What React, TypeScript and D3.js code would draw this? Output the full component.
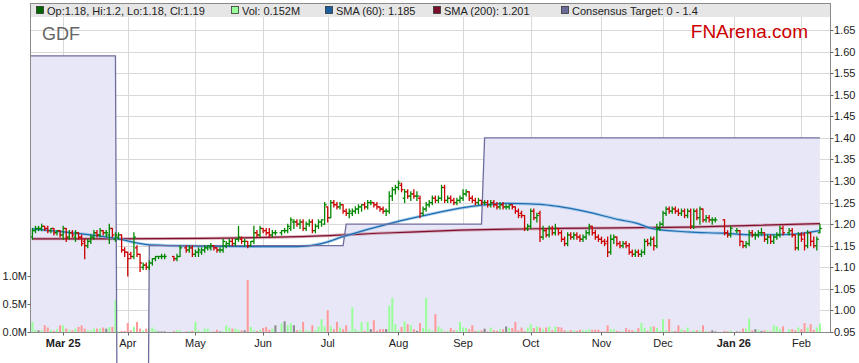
import * as d3 from 'd3'

const FIRST_DAY = '2025-02-17'
const LAST_DAY = '2026-02-10'

// [open, high, low, close] for every weekday, null = market closed
type Bar = [number, number, number, number] | null
const ohlc: Bar[] = [
  // Feb 25
  [1.170, 1.190, 1.165, 1.185], [1.185, 1.195, 1.180, 1.190], [1.190, 1.195, 1.185, 1.190], [1.190, 1.200, 1.185, 1.195],
  [1.195, 1.195, 1.185, 1.190], [1.190, 1.195, 1.180, 1.185], [1.185, 1.190, 1.180, 1.190], [1.190, 1.190, 1.175, 1.180],
  [1.180, 1.185, 1.175, 1.185], [1.185, 1.185, 1.170, 1.175],
  // Mar 25
  [1.175, 1.195, 1.165, 1.190], [1.190, 1.190, 1.160, 1.170], [1.170, 1.185, 1.165, 1.180], [1.180, 1.185, 1.170, 1.175],
  [1.170, 1.185, 1.160, 1.180], [1.180, 1.180, 1.165, 1.170], [1.170, 1.175, 1.150, 1.155], [1.160, 1.165, 1.120, 1.150],
  [1.150, 1.165, 1.145, 1.160], [1.160, 1.175, 1.155, 1.170], [1.170, 1.185, 1.165, 1.180], [1.180, 1.185, 1.170, 1.175],
  [1.175, 1.190, 1.170, 1.185], [1.185, 1.185, 1.175, 1.180], [1.180, 1.185, 1.170, 1.180], [1.175, 1.200, 1.155, 1.190],
  [1.190, 1.190, 1.170, 1.175], [1.165, 1.180, 1.160, 1.175], [1.170, 1.180, 1.165, 1.175], [1.175, 1.175, 1.135, 1.140],
  [1.140, 1.145, 1.125, 1.135],
  // Apr
  [1.135, 1.135, 1.080, 1.120], [1.130, 1.135, 1.120, 1.125], [1.125, 1.180, 1.120, 1.170], [1.145, 1.150, 1.125, 1.130],
  [1.130, 1.130, 1.090, 1.110], [1.100, 1.110, 1.095, 1.105], [1.105, 1.110, 1.095, 1.100], [1.100, 1.115, 1.095, 1.110],
  [1.110, 1.120, 1.105, 1.120], [1.120, 1.125, 1.115, 1.125], [1.125, 1.125, 1.120, 1.125], [1.125, 1.130, 1.120, 1.125],
  [1.125, 1.130, 1.120, 1.125], null, null, [1.125, 1.125, 1.115, 1.120],
  [1.120, 1.130, 1.115, 1.125], [1.125, 1.150, 1.125, 1.145], null, [1.145, 1.150, 1.135, 1.140],
  [1.140, 1.150, 1.135, 1.145], [1.145, 1.150, 1.125, 1.130],
  // May
  [1.130, 1.140, 1.125, 1.135], [1.135, 1.145, 1.125, 1.140], [1.135, 1.145, 1.130, 1.140], [1.140, 1.150, 1.135, 1.145],
  [1.145, 1.150, 1.140, 1.150], [1.145, 1.155, 1.140, 1.150], [1.150, 1.150, 1.140, 1.145], [1.145, 1.145, 1.135, 1.140],
  [1.140, 1.145, 1.135, 1.140], [1.140, 1.165, 1.135, 1.160], [1.150, 1.160, 1.145, 1.155], [1.155, 1.165, 1.150, 1.160],
  [1.160, 1.165, 1.150, 1.155], [1.155, 1.165, 1.150, 1.165], [1.165, 1.195, 1.160, 1.170], [1.165, 1.170, 1.155, 1.160],
  [1.160, 1.165, 1.150, 1.160], [1.160, 1.160, 1.145, 1.150], [1.150, 1.160, 1.150, 1.160], [1.160, 1.195, 1.155, 1.180],
  [1.180, 1.185, 1.170, 1.175], [1.175, 1.195, 1.170, 1.190],
  // Jun
  [1.190, 1.190, 1.180, 1.185], [1.185, 1.190, 1.175, 1.180], [1.180, 1.190, 1.170, 1.175], [1.175, 1.185, 1.170, 1.180],
  [1.180, 1.185, 1.175, 1.180], null, [1.180, 1.185, 1.175, 1.185], [1.185, 1.190, 1.180, 1.185],
  [1.185, 1.200, 1.180, 1.195], [1.190, 1.215, 1.185, 1.210], [1.205, 1.210, 1.190, 1.205], [1.205, 1.210, 1.195, 1.200],
  [1.200, 1.210, 1.190, 1.205], [1.205, 1.210, 1.185, 1.190], [1.190, 1.205, 1.185, 1.200], [1.200, 1.210, 1.195, 1.205],
  [1.205, 1.210, 1.180, 1.185], [1.185, 1.200, 1.180, 1.195], [1.195, 1.210, 1.190, 1.205], [1.205, 1.210, 1.195, 1.210],
  [1.200, 1.250, 1.200, 1.245],
  // Jul
  [1.240, 1.240, 1.205, 1.215], [1.215, 1.255, 1.215, 1.250], [1.250, 1.255, 1.240, 1.245], [1.245, 1.250, 1.235, 1.240],
  [1.240, 1.250, 1.235, 1.245], [1.245, 1.245, 1.225, 1.230], [1.230, 1.235, 1.220, 1.225], [1.225, 1.235, 1.215, 1.230],
  [1.225, 1.235, 1.220, 1.230], [1.230, 1.240, 1.225, 1.235], [1.235, 1.245, 1.225, 1.240], [1.240, 1.245, 1.230, 1.245],
  [1.245, 1.250, 1.235, 1.240], [1.240, 1.255, 1.235, 1.250], [1.250, 1.255, 1.245, 1.250], [1.250, 1.250, 1.240, 1.245],
  [1.245, 1.250, 1.235, 1.240], [1.240, 1.240, 1.230, 1.235], [1.235, 1.240, 1.225, 1.230], [1.230, 1.235, 1.220, 1.230],
  [1.230, 1.275, 1.225, 1.265], [1.265, 1.285, 1.255, 1.280], [1.280, 1.290, 1.270, 1.285],
  // Aug
  [1.285, 1.300, 1.280, 1.295], [1.290, 1.295, 1.275, 1.280], [1.260, 1.280, 1.250, 1.275], [1.275, 1.280, 1.260, 1.265],
  [1.265, 1.275, 1.255, 1.270], [1.270, 1.280, 1.260, 1.265], [1.265, 1.275, 1.255, 1.265], [1.260, 1.265, 1.215, 1.225],
  [1.225, 1.240, 1.220, 1.235], [1.235, 1.250, 1.230, 1.245], [1.245, 1.255, 1.240, 1.250], [1.250, 1.265, 1.245, 1.260],
  [1.260, 1.265, 1.250, 1.255], [1.255, 1.265, 1.250, 1.260], [1.260, 1.290, 1.255, 1.285], [1.285, 1.290, 1.250, 1.255],
  [1.255, 1.265, 1.250, 1.260], [1.260, 1.265, 1.250, 1.255], [1.255, 1.260, 1.245, 1.250], [1.250, 1.260, 1.245, 1.255],
  [1.255, 1.265, 1.250, 1.260],
  // Sep
  [1.260, 1.280, 1.255, 1.270], [1.270, 1.280, 1.265, 1.275], [1.275, 1.275, 1.255, 1.260], [1.260, 1.265, 1.250, 1.255],
  [1.255, 1.260, 1.245, 1.250], [1.250, 1.260, 1.245, 1.255], [1.255, 1.255, 1.245, 1.250], [1.250, 1.255, 1.245, 1.250],
  [1.250, 1.255, 1.240, 1.245], [1.245, 1.255, 1.240, 1.250], [1.250, 1.255, 1.240, 1.245], [1.245, 1.250, 1.235, 1.240],
  [1.240, 1.250, 1.235, 1.245], [1.245, 1.250, 1.235, 1.240], [1.240, 1.245, 1.235, 1.240], [1.240, 1.245, 1.235, 1.245],
  [1.245, 1.245, 1.235, 1.240], [1.240, 1.240, 1.225, 1.230], [1.230, 1.235, 1.215, 1.220], [1.225, 1.230, 1.215, 1.220],
  [1.220, 1.220, 1.185, 1.190], [1.190, 1.200, 1.185, 1.195],
  // Oct
  [1.195, 1.235, 1.190, 1.230], [1.230, 1.235, 1.210, 1.215], [1.215, 1.225, 1.205, 1.220], [1.225, 1.230, 1.160, 1.170],
  [1.170, 1.195, 1.165, 1.185], [1.185, 1.190, 1.170, 1.175], [1.175, 1.195, 1.170, 1.190], [1.190, 1.195, 1.175, 1.180],
  [1.180, 1.200, 1.175, 1.190], [1.190, 1.190, 1.175, 1.180], [1.180, 1.185, 1.160, 1.165], [1.165, 1.170, 1.150, 1.155],
  [1.155, 1.180, 1.150, 1.175], [1.175, 1.180, 1.165, 1.170], [1.170, 1.180, 1.165, 1.175], [1.175, 1.180, 1.165, 1.170],
  [1.170, 1.175, 1.160, 1.165], [1.165, 1.175, 1.160, 1.170], [1.170, 1.185, 1.165, 1.180], [1.180, 1.200, 1.175, 1.195],
  [1.195, 1.195, 1.175, 1.180], [1.180, 1.185, 1.165, 1.170], [1.170, 1.175, 1.160, 1.165],
  // Nov
  [1.165, 1.170, 1.155, 1.160], [1.160, 1.165, 1.150, 1.155], [1.160, 1.170, 1.125, 1.135], [1.135, 1.175, 1.130, 1.165],
  [1.165, 1.175, 1.155, 1.170], [1.170, 1.170, 1.150, 1.155], [1.155, 1.160, 1.145, 1.150], [1.150, 1.160, 1.145, 1.155],
  [1.155, 1.160, 1.145, 1.150], [1.150, 1.155, 1.130, 1.135], [1.135, 1.140, 1.125, 1.130], [1.130, 1.140, 1.125, 1.135],
  [1.135, 1.140, 1.125, 1.130], [1.130, 1.140, 1.125, 1.135], [1.135, 1.165, 1.130, 1.160], [1.160, 1.165, 1.150, 1.155],
  [1.155, 1.170, 1.150, 1.165], [1.165, 1.170, 1.140, 1.150], [1.150, 1.200, 1.145, 1.190], [1.190, 1.205, 1.185, 1.200],
  // Dec
  [1.200, 1.230, 1.195, 1.225], [1.225, 1.240, 1.220, 1.235], [1.235, 1.240, 1.225, 1.230], [1.230, 1.240, 1.225, 1.235],
  [1.235, 1.240, 1.225, 1.230], [1.230, 1.235, 1.220, 1.225], [1.225, 1.235, 1.220, 1.230], [1.230, 1.235, 1.215, 1.220],
  [1.220, 1.235, 1.215, 1.230], [1.230, 1.235, 1.190, 1.195], [1.195, 1.235, 1.190, 1.230], [1.230, 1.235, 1.210, 1.215],
  [1.215, 1.240, 1.200, 1.235], [1.235, 1.235, 1.205, 1.210], [1.210, 1.220, 1.205, 1.215], [1.215, 1.220, 1.205, 1.210],
  [1.210, 1.215, 1.200, 1.210], [1.210, 1.215, 1.205, 1.210], null, null,
  [1.210, 1.210, 1.175, 1.180], [1.180, 1.185, 1.170, 1.175], [1.175, 1.195, 1.170, 1.190],
  // Jan 26
  null, [1.185, 1.190, 1.180, 1.185], [1.185, 1.185, 1.150, 1.160], [1.160, 1.160, 1.145, 1.150],
  [1.150, 1.160, 1.145, 1.155], [1.155, 1.185, 1.150, 1.180], [1.180, 1.185, 1.170, 1.175], [1.175, 1.180, 1.165, 1.175],
  [1.175, 1.185, 1.170, 1.180], [1.180, 1.190, 1.175, 1.180], [1.180, 1.180, 1.160, 1.165], [1.165, 1.175, 1.155, 1.170],
  [1.170, 1.175, 1.155, 1.160], [1.160, 1.175, 1.155, 1.170], [1.170, 1.180, 1.165, 1.175], [1.175, 1.195, 1.170, 1.190],
  [1.190, 1.195, 1.175, 1.180], null, [1.180, 1.190, 1.175, 1.185], [1.185, 1.190, 1.170, 1.175],
  [1.175, 1.175, 1.140, 1.145], [1.145, 1.180, 1.140, 1.175],
  // Feb
  [1.175, 1.180, 1.160, 1.165], [1.175, 1.180, 1.140, 1.150], [1.150, 1.185, 1.145, 1.180], [1.180, 1.180, 1.150, 1.160],
  [1.160, 1.170, 1.145, 1.150], [1.150, 1.170, 1.140, 1.165], [1.180, 1.200, 1.180, 1.190],
]

// daily volume, millions of shares
const volumes = [
  0.18, 0.04, 0.03, 0.03, 0.12, 0.08, 0.04, 0.02, 0.05, 0.12,
  0.12, 0.06, 0.04, 0.03, 0.06, 0.09, 0.12, 0.06, 0.03, 0.03, 0.06, 0.06, 0.06, 0.08, 0.06, 0.09, 0.09, 0.57, 0.01, 0.02, 0.02,
  0.16, 0.03, 0.09, 0.18, 0.06, 0.03, 0.06, 0.06, 0.08, 0.04, 0.01, 0.01, 0.01, 0, 0, 0.02, 0.03, 0.03, 0, 0.01, 0.02, 0.02,
  0.18, 0.03, 0.01, 0.06, 0.06, 0.01, 0.01, 0.04, 0.01, 0.01, 0.12, 0.08, 0.06, 0.06, 0.04, 0.03, 0.03, 0.93, 0.09, 0.03, 0.02, 0.04,
  0.07, 0.09, 0.04, 0.06, 0.12, 0, 0.15, 0.19, 0.12, 0.16, 0.12, 0.03, 0.04, 0.18, 0.03, 0.02, 0.12, 0.03, 0.10, 0.23, 0.10,
  0.39, 0.10, 0.05, 0.18, 0.08, 0.05, 0.12, 0.02, 0.44, 0.05, 0.02, 0.18, 0.02, 0.18, 0.05, 0.21, 0.02, 0.05, 0.05, 0.05, 0.47, 0.61, 0.14,
  0.03, 0.09, 0.19, 0.14, 0.12, 0.05, 0.02, 0.16, 0.07, 0.61, 0.05, 0.02, 0.32, 0.10, 0.06, 0.01, 0.02, 0.07, 0.03, 0.03, 0.18,
  0.08, 0.07, 0.05, 0.12, 0.02, 0.03, 0.03, 0.06, 0.01, 0.08, 0.03, 0.02, 0.05, 0.05, 0.10, 0.07, 0.07, 0.18, 0.03, 0.08, 0.02, 0.08,
  0.14, 0.07, 0.10, 0.08, 0.05, 0.08, 0.10, 0.03, 0.10, 0.09, 0.08, 0.03, 0.02, 0.03, 0.03, 0.02, 0.04, 0.03, 0.03, 0.05, 0.04, 0.04, 0.04,
  0.01, 0.01, 0.12, 0.05, 0.05, 0.02, 0.01, 0.01, 0.07, 0.04, 0.03, 0.02, 0.07, 0.16, 0.07, 0.02, 0.10, 0.10, 0.07, 0.02,
  0.23, 0.03, 0.23, 0.02, 0.02, 0.12, 0.05, 0.03, 0.08, 0.01, 0.03, 0.03, 0.03, 0.12, 0.02, 0.01, 0.03, 0.01, 0, 0, 0.02, 0.01, 0.03,
  0, 0.01, 0.01, 0.06, 0.06, 0.24, 0.03, 0.05, 0.04, 0.02, 0.03, 0.03, 0.01, 0.12, 0.10, 0.05, 0.10, 0, 0.05, 0.05, 0.03, 0.08,
  0.05, 0.16, 0.08, 0.14, 0.04, 0.08, 0.152,
]

const sma60: [string, number][] = [
  ['2025-02-17', 1.189], ['2025-03-03', 1.182], ['2025-03-26', 1.167], ['2025-04-10', 1.152], ['2025-05-02', 1.149],
  ['2025-05-28', 1.148], ['2025-06-17', 1.148], ['2025-06-27', 1.155], ['2025-07-08', 1.171], ['2025-07-30', 1.203],
  ['2025-08-14', 1.221], ['2025-08-29', 1.237], ['2025-09-09', 1.244], ['2025-09-19', 1.248], ['2025-10-06', 1.246],
  ['2025-10-14', 1.241], ['2025-10-27', 1.229], ['2025-11-11', 1.210], ['2025-11-18', 1.203], ['2025-11-26', 1.189],
  ['2025-12-11', 1.182], ['2025-12-26', 1.179], ['2026-01-12', 1.175], ['2026-01-27', 1.176], ['2026-02-10', 1.185],
]

const sma200: [string, number][] = [
  ['2025-02-17', 1.166], ['2025-03-26', 1.166], ['2025-05-02', 1.167], ['2025-06-17', 1.171], ['2025-07-30', 1.180],
  ['2025-08-29', 1.186], ['2025-10-14', 1.190], ['2025-12-11', 1.193], ['2026-02-10', 1.201],
]

// consensus target, value from that date on
const consensusSteps: [string, number][] = [
  ['2025-02-17', 1.59], ['2025-03-27', 0], ['2025-04-10', 1.15], ['2025-07-09', 1.20], ['2025-09-10', 1.40],
]

const priceTicks = [0.95, 1.0, 1.05, 1.1, 1.15, 1.2, 1.25, 1.3, 1.35, 1.4, 1.45, 1.5, 1.55, 1.6, 1.65]
const volumeTicks = [0, 0.5, 1.0]
const monthLabels = ['Mar 25', 'Apr', 'May', 'Jun', 'Jul', 'Aug', 'Sep', 'Oct', 'Nov', 'Dec', 'Jan 26', 'Feb']

const legend = [
  { x: 36, color: '#006600', text: 'Op:1.18, Hi:1.2, Lo:1.18, Cl:1.19' },
  { x: 231, color: '#99ff99', text: 'Vol: 0.152M' },
  { x: 325, color: '#1a5f9f', text: 'SMA (60): 1.185' },
  { x: 433, color: '#7a0f2a', text: 'SMA (200): 1.201' },
  { x: 561, color: '#6b6b9b', text: 'Consensus Target: 0 - 1.4' },
]

const W = 859
const H = 363
const P = { left: 30.5, right: 830.5, top: 3.5, header: 17, bottom: 332.5 }
const FONT = '"Liberation Sans", Arial, sans-serif'

export default function App() {
  const days = d3
    .utcDays(new Date(FIRST_DAY), d3.utcDay.offset(new Date(LAST_DAY), 1))
    .filter(d => d.getUTCDay() !== 0 && d.getUTCDay() !== 6)
  const fmt = d3.utcFormat('%Y-%m-%d')
  const keys = days.map(fmt)
  const idx = new Map(keys.map((k, i) => [k, i]))

  const x = d3.scaleLinear().domain([0, days.length - 1]).range([32.4, 819.9])
  const yP = d3.scaleLinear().domain([0.95, 1.65]).range([332, 30])
  const yV = d3.scaleLinear().domain([0, 1]).range([332, 276])

  const monthStarts = days
    .map((_, i) => i)
    .filter(i => i > 0 && days[i].getUTCMonth() !== days[i - 1].getUTCMonth())

  const target = keys.map(k => {
    let v = consensusSteps[0][1]
    for (const [d, val] of consensusSteps) if (k >= d) v = val
    return v
  })
  const tx = (i: number) => (i === 0 ? P.left : x(i))
  const targetArea = d3.area<number>().x((_, i) => tx(i)).y0(P.bottom).y1(v => yP(v))(target) || ''
  const targetLine = d3.line<number>().x((_, i) => tx(i)).y(v => yP(v))(target) || ''

  const smaPath = (pts: [string, number][]) =>
    d3.line<[string, number]>()
      .x(d => x(idx.get(d[0]) ?? 0))
      .y(d => yP(d[1]))
      .curve(d3.curveMonotoneX)(pts) || ''

  const upColor = '#008800'
  const downColor = '#cc0000'

  return (
    <svg width={W} height={H} style={{ position: 'absolute', left: 0, top: 0, background: '#fff' }} fontFamily={FONT}>
      <defs>
        <clipPath id="plot">
          <rect x={P.left} y={P.header} width={P.right - P.left} height={P.bottom - P.header} />
        </clipPath>
      </defs>
      <rect width={W} height={H} fill="#fff" />

      {/* grid */}
      {priceTicks.map(t => (
        <line key={t} x1={P.left} x2={P.right} y1={Math.round(yP(t)) + 0.5} y2={Math.round(yP(t)) + 0.5} stroke="#d9d9d9" />
      ))}
      {monthStarts.map(i => (
        <line key={i} x1={Math.round(x(i)) + 0.5} x2={Math.round(x(i)) + 0.5} y1={P.header} y2={P.bottom} stroke="#d9d9d9" />
      ))}

      {/* consensus target fill */}
      <path d={targetArea} fill="#e7e7f7" clipPath="url(#plot)" />

      {/* header legend */}
      <rect x={P.left} y={P.top} width={P.right - P.left} height={P.header - P.top} fill="#e6e6e6" />
      {legend.map(l => (
        <g key={l.text}>
          <rect x={l.x + 0.5} y={6.5} width={7} height={7} fill={l.color} stroke="#333" strokeWidth={0.8} />
          <text x={l.x + 11} y={14.5} fontSize={11} fill="#222">{l.text}</text>
        </g>
      ))}

      <text x={42} y={39.5} fontSize={18} fill="#666">GDF</text>
      <text x={808} y={38} fontSize={19} fill="#cc0000" textAnchor="end">FNArena.com</text>

      {/* volume */}
      {volumes.map((v, i) => {
        const b = ohlc[i]
        if (!b || v <= 0) return null
        const fill = b[3] > b[0] ? '#99ff99' : b[3] < b[0] ? '#ff9999' : '#888888'
        return <rect key={i} x={x(i) - 1} y={yV(v)} width={2} height={332 - yV(v)} fill={fill} />
      })}

      {/* moving averages */}
      <path d={smaPath(sma200)} fill="none" stroke="#c98d9c" strokeWidth={3} opacity={0.7} />
      <path d={smaPath(sma200)} fill="none" stroke="#7f1030" strokeWidth={1.2} />
      <path d={smaPath(sma60)} fill="none" stroke="#8dbde6" strokeWidth={3} opacity={0.7} />
      <path d={smaPath(sma60)} fill="none" stroke="#1f6db0" strokeWidth={1.2} />

      {/* consensus target line */}
      <path d={targetLine} fill="none" stroke="#6e6e9e" strokeWidth={1.3} />

      {/* price bars */}
      {ohlc.map((b, i) => {
        if (!b) return null
        const [o, h, l, c] = b
        const cx = x(i)
        const col = c >= o ? upColor : downColor
        return (
          <g key={i} stroke={col} strokeWidth={1.3}>
            <line x1={cx} x2={cx} y1={yP(h) - 0.5} y2={yP(l) + 0.5} />
            <line x1={cx - 2} x2={cx} y1={yP(o)} y2={yP(o)} />
            <line x1={cx} x2={cx + 2} y1={yP(c)} y2={yP(c)} />
          </g>
        )
      })}

      {/* frame */}
      <rect x={P.left} y={P.top} width={P.right - P.left} height={P.bottom - P.top} fill="none" stroke="#8a8a8a" />

      {/* right price axis */}
      {priceTicks.map(t => (
        <g key={t}>
          <line x1={P.right} x2={P.right + 3} y1={Math.round(yP(t)) + 0.5} y2={Math.round(yP(t)) + 0.5} stroke="#666" />
          <text x={834} y={yP(t) + 4} fontSize={11} fill="#222">{t.toFixed(2)}</text>
        </g>
      ))}

      {/* left volume axis */}
      {volumeTicks.map(t => (
        <g key={t}>
          <line x1={P.left - 3} x2={P.left} y1={Math.round(yV(t)) + 0.5} y2={Math.round(yV(t)) + 0.5} stroke="#666" />
          <text x={27} y={yV(t) + 4} fontSize={11} fill="#222" textAnchor="end">{t.toFixed(1)}M</text>
        </g>
      ))}

      {/* month axis */}
      {monthStarts.map((i, k) => (
        <g key={i}>
          <line x1={Math.round(x(i)) + 0.5} x2={Math.round(x(i)) + 0.5} y1={P.bottom} y2={P.bottom + 3} stroke="#666" />
          <text
            x={x(i)}
            y={347}
            fontSize={11}
            fill="#222"
            textAnchor="middle"
            fontWeight={monthLabels[k].includes(' ') ? 'bold' : 'normal'}
          >
            {monthLabels[k]}
          </text>
        </g>
      ))}
    </svg>
  )
}
